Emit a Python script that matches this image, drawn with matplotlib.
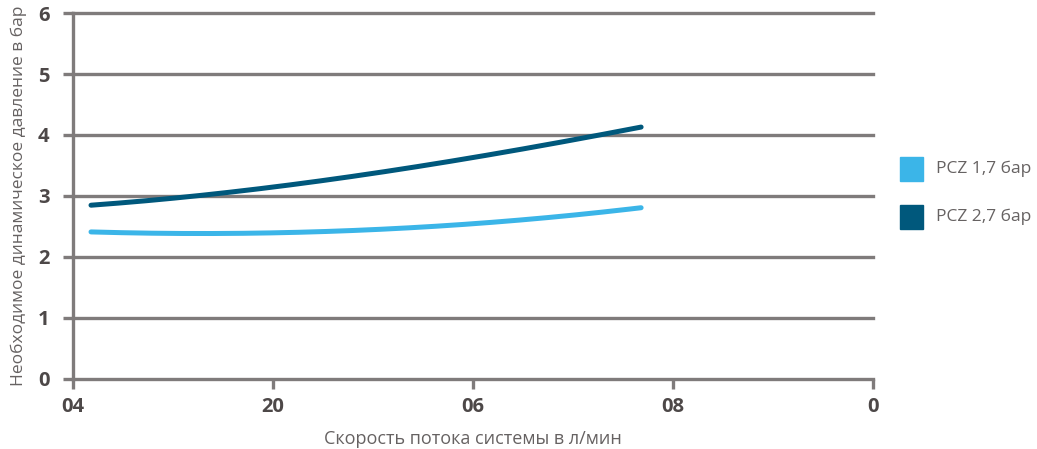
import numpy as np
import matplotlib
matplotlib.use("Agg")
import matplotlib.pyplot as plt
from matplotlib.patches import Rectangle

plt.rcParams['font.family'] = ['Open Sans', 'DejaVu Sans']

# data (x in tick-index units)
xticks = [0, 1, 2, 3, 4]
xlabels = ["04", "20", "06", "08", "0"]
yticks = [0, 1, 2, 3, 4, 5, 6]

x_pcz17 = [0.09, 0.5, 1.0, 1.5, 2.0, 2.5, 2.84]
y_pcz17 = [2.41, 2.39, 2.39, 2.45, 2.55, 2.68, 2.81]
x_pcz27 = [0.09, 0.5, 1.0, 1.5, 2.0, 2.5, 2.84]
y_pcz27 = [2.85, 2.96, 3.15, 3.37, 3.63, 3.92, 4.13]

names = ["PCZ 1,7 бар", "PCZ 2,7 бар"]
colors = ["#3bb5e8", "#00587c"]

grey = "#7f7b7b"

fig = plt.figure(figsize=(10.37, 4.49), dpi=100)
ax = fig.add_axes([0.0704, 0.156, 0.842 - 0.0704, 0.971 - 0.156])

def smooth(x, y):
    c = np.polyfit(x, y, 3)
    xs = np.linspace(x[0], x[-1], 200)
    return xs, np.polyval(c, xs)

for xs, ys, col in [(x_pcz17, y_pcz17, colors[0]), (x_pcz27, y_pcz27, colors[1])]:
    sx, sy = smooth(xs, ys)
    ax.plot(sx, sy, color=col, lw=3.6, solid_capstyle="round", zorder=3)

ax.set_xlim(0, 4)
ax.set_ylim(0, 6)
ax.set_xticks(xticks)
ax.set_xticklabels(xlabels)
ax.set_yticks(yticks)
for t in yticks[1:]:
    ax.axhline(t, color=grey, lw=2.4, zorder=1, clip_on=False)

for s in ["top", "right"]:
    ax.spines[s].set_visible(False)
for s in ["left", "bottom"]:
    ax.spines[s].set_color(grey)
    ax.spines[s].set_linewidth(2.4)
ax.tick_params(axis="both", color=grey, width=2.4, length=7, labelcolor="#4d4848",
               labelsize=14.5)
ax.tick_params(axis="x", pad=6)
ax.tick_params(axis="y", pad=10)
for lab in ax.get_xticklabels() + ax.get_yticklabels():
    lab.set_fontweight("bold")

ax.set_xlabel("Скорость потока системы в л/мин", fontsize=13, color="#666262", labelpad=9)
ax.set_ylabel("Необходимое динамическое давление в бар", fontsize=12.5, color="#666262", labelpad=8)

# legend
for i, (nm, col) in enumerate(zip(names, colors)):
    yy = 169 + i * 48
    fig.patches.append(Rectangle((900 / 1037, 1 - (yy + 12) / 449), 23 / 1037, 24 / 449,
                                 transform=fig.transFigure, color=col))
    fig.text(936 / 1037, 1 - yy / 449, nm, fontsize=12.5, color="#666262", va="center")

fig.savefig("out.png", dpi=100)
